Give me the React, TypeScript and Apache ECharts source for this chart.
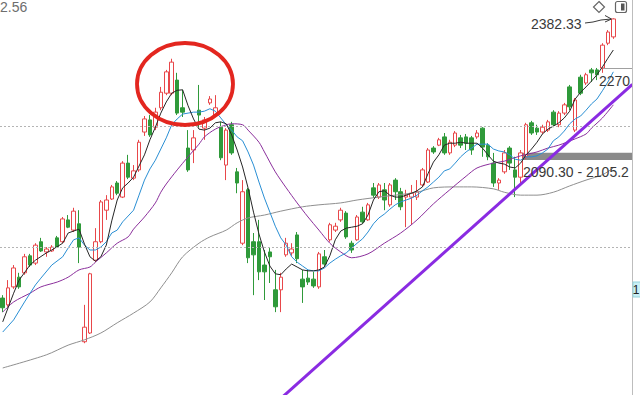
import React, { useEffect, useRef } from "react";
import * as echarts from "echarts";

// Daily candles: open / close / low / high
const opens = [1806,1792,1829,1849,1858,1893,1878,1922,1901,1903,
1930,1922,1967,1946,1959,1716,1734,1884,1922,1987,
2010,2043,2014,2084,2053,2070,2148,2173,2158,2198,
2228,2228,2255,2198,2115,2111,2193,2156,2208,2183,
2158,2080,2163,2066,1919,2029,1922,1922,1874,1901,
1823,1823,1895,1899,1936,1845,1847,1845,1829,1891,
1926,1946,1967,1981,1919,1926,1983,1967,2033,2014,
2029,1998,2049,2025,2014,2014,2014,2039,2045,2115,
2121,2138,2105,2121,2136,2138,2136,2138,2156,2121,
2084,2043,2066,2115,2070,2055,2097,2167,2156,2148,
2152,2189,2163,2187,2241,2152,2261,2249,2276,2276,
2280,2331,2344];
const closes = [1786,1827,1868,1829,1891,1874,1915,1903,1907,1911,
1911,1969,1952,1985,1911,1746,1856,1922,2004,2008,
2035,2022,2084,2055,2068,2127,2175,2142,2189,2230,
2272,2292,2187,2189,2070,2136,2183,2173,2216,2198,
2095,2152,2105,2043,2025,1889,1895,1860,1860,1891,
1788,1849,1919,1907,1887,1829,1839,1831,1897,1876,
1957,1954,1987,1932,1905,1973,1963,1998,2018,2039,
2008,2039,2025,1994,2018,2022,2025,2070,2111,2107,
2132,2105,2127,2146,2121,2125,2111,2146,2117,2097,
2043,2049,2105,2084,2055,2105,2163,2146,2148,2158,
2169,2163,2187,2204,2200,2214,2228,2266,2270,2266,
2327,2354,2381];
const lows = [1777,1788,1825,1825,1854,1870,1874,1901,1891,1901,
1909,1919,1950,1942,1878,1713,1732,1880,1919,1967,
2008,2018,2012,2051,2049,2066,2140,2138,2152,2193,
2224,2224,2183,2179,2066,2084,2158,2132,2204,2179,
2090,2049,2101,2022,1915,1878,1812,1843,1802,1837,
1777,1777,1891,1893,1878,1796,1833,1827,1825,1870,
1922,1942,1963,1928,1899,1924,1959,1965,2012,2010,
1987,1994,2008,1987,1952,1957,2008,2035,2043,2103,
2119,2101,2101,2117,2115,2111,2101,2134,2097,2090,
2035,2029,2062,2070,2014,2043,2092,2142,2142,2144,
2148,2158,2158,2183,2193,2148,2224,2245,2251,2255,
2270,2327,2340];
const highs = [1812,1843,1874,1858,1897,1897,1919,1930,1911,1915,
1934,1973,1977,1992,1987,1792,1858,1950,2008,2018,
2039,2047,2088,2101,2080,2132,2181,2183,2198,2241,
2276,2299,2270,2235,2152,2152,2245,2179,2222,2224,
2169,2156,2169,2074,2049,2033,1940,1967,1905,1909,
1864,1858,1930,1919,1942,1864,1864,1860,1901,1905,
1961,1961,1992,1985,1924,1977,1994,2002,2043,2043,
2043,2043,2053,2033,2029,2039,2049,2074,2115,2119,
2136,2146,2132,2150,2142,2144,2140,2152,2158,2125,
2105,2053,2111,2119,2097,2111,2167,2171,2163,2163,
2173,2193,2191,2208,2245,2218,2266,2270,2280,2280,
2331,2358,2382.33];

// Moving averages as [day index, value]
const ma5 = [[0,1757],[2,1816],[3,1843],[5,1874],[6,1884],[8,1899],[9,1905],[11,1919],[12,1940],[14,1948],
[15,1917],[16,1891],[17,1882],[18,1891],[19,1915],[20,1965],[21,2008],[22,2033],[23,2043],[24,2055],
[25,2078],[26,2101],[27,2132],[28,2158],[29,2187],[30,2210],[31,2228],[32,2234],[33,2235],[34,2202],
[35,2175],[36,2154],[37,2152],[38,2156],[39,2167],[40,2169],[41,2165],[42,2142],[43,2111],[44,2076],
[45,2033],[46,1983],[47,1938],[48,1901],[49,1872],[50,1856],[51,1854],[52,1866],[53,1876],[54,1870],
[55,1864],[56,1862],[57,1862],[58,1864],[59,1870],[60,1893],[61,1926],[62,1944],[63,1950],[64,1952],
[65,1954],[66,1959],[67,1977],[68,2008],[69,2025],[70,2027],[71,2018],[72,2014],[73,2014],[74,2018],
[75,2022],[76,2027],[77,2035],[78,2062],[79,2086],[80,2101],[81,2121],[82,2125],[83,2125],[84,2127],
[85,2125],[86,2125],[87,2125],[88,2115],[89,2101],[90,2088],[91,2084],[92,2082],[93,2076],[94,2074],
[95,2084],[96,2101],[97,2113],[98,2127],[99,2144],[100,2154],[101,2160],[102,2167],[103,2177],[104,2191],
[105,2216],[106,2230],[107,2241],[108,2253],[109,2266],[110,2282],[111,2300],[112,2317]];
const ma10 = [[0,1736],[2,1761],[4,1798],[6,1833],[7,1847],[9,1874],[11,1891],[12,1909],[13,1926],[14,1930],
[15,1915],[16,1905],[17,1905],[18,1911],[19,1922],[20,1940],[21,1946],[22,1963],[23,1975],[24,1987],
[25,2018],[26,2049],[27,2072],[28,2090],[29,2113],[30,2136],[31,2163],[32,2175],[33,2185],[34,2187],
[35,2189],[36,2189],[37,2191],[38,2196],[39,2191],[40,2177],[41,2163],[42,2152],[43,2138],[44,2130],
[45,2107],[46,2080],[47,2045],[48,2012],[49,1983],[50,1954],[51,1930],[52,1915],[53,1891],[54,1880],
[55,1872],[56,1864],[57,1862],[58,1862],[59,1868],[60,1878],[61,1886],[62,1893],[63,1899],[64,1909],
[65,1919],[66,1928],[67,1942],[68,1959],[69,1971],[70,1979],[71,1989],[72,1998],[73,2004],[74,2008],
[75,2012],[76,2018],[77,2027],[78,2035],[79,2045],[80,2055],[81,2068],[82,2072],[83,2084],[84,2097],
[85,2107],[86,2115],[87,2123],[88,2123],[89,2123],[90,2113],[91,2109],[92,2107],[93,2101],[94,2092],
[95,2090],[96,2097],[97,2097],[98,2099],[99,2105],[100,2113],[101,2130],[102,2138],[103,2150],[104,2165],
[105,2175],[106,2181],[107,2193],[108,2206],[109,2216],[110,2233],[111,2251],[112,2272]];
const ma20 = [[0,1777],[2,1798],[5,1816],[7,1829],[10,1839],[12,1849],[14,1864],[16,1870],[17,1880],[19,1899],
[21,1919],[23,1932],[24,1948],[26,1973],[28,2002],[29,2024],[30,2041],[32,2070],[34,2097],[36,2123],
[37,2138],[39,2154],[41,2163],[42,2165],[44,2163],[45,2152],[47,2127],[48,2107],[50,2066],[52,2033],
[54,2002],[56,1973],[58,1946],[60,1919],[62,1901],[64,1889],[67,1897],[70,1919],[73,1940],[76,1967],
[79,2000],[82,2029],[85,2057],[87,2074],[90,2084],[92,2088],[95,2099],[98,2107],[100,2115],[102,2121],
[105,2134],[107,2144],[108,2156],[110,2177],[112,2204]];
const ma60 = [[0,1662],[8,1689],[12,1709],[15,1720],[18,1734],[21,1755],[24,1775],[27,1798],[29,1827],[31,1858],
[33,1891],[36,1919],[38,1932],[41,1946],[43,1961],[45,1971],[48,1977],[51,1985],[55,1994],[58,1998],
[62,2002],[65,2008],[69,2014],[72,2018],[76,2024],[79,2033],[83,2035],[86,2035],[90,2031],[92,2024],
[95,2018],[98,2018],[101,2024],[104,2037],[107,2049],[110,2060],[112,2074]];

// Support line anchors [day index, value]
const trendLine = [[50, 1589], [115.5, 2246]];
// Unfilled gap
const gapLow = 2090.3;
const gapHigh = 2105.2;
const gapStartDay = 95;
// Dotted price levels
const priceLevels = [2159.4, 1910.6];

const slotCount = 116;
const days = Array.from({ length: slotCount }, (_, i) => `D${i + 1}`);
const candles = opens.map((o, i) => [o, closes[i], lows[i], highs[i]]);
const lastHigh = highs[highs.length - 1];

const FONT = '14px "Liberation Sans", Arial, sans-serif';
const UP = "#e8474a";
const DOWN = "#2f9a3a";

export default function App() {
  const ref = useRef<HTMLDivElement>(null);

  useEffect(() => {
    document.body.style.margin = "0";
    if (!ref.current) return;
    const chart = echarts.init(ref.current, null, { renderer: "svg" });

    const maSeries = (name: string, data: number[][], color: string, smooth: number | boolean) => ({
      name,
      type: "line",
      xAxisIndex: 1,
      data,
      symbol: "none",
      smooth,
      lineStyle: { color, width: 1 },
      z: 3,
      silent: true,
    });

    chart.setOption({
      animation: false,
      backgroundColor: "#ffffff",
      grid: { left: -3.24, right: 7.6, top: 0, bottom: 0 },
      xAxis: [
        { type: "category", data: days, show: false, boundaryGap: true },
        { type: "value", min: -0.5, max: slotCount - 0.5, show: false },
      ],
      yAxis: { type: "value", min: 1606.3, max: 2420, show: false, splitLine: { show: false } },
      series: [
        {
          name: "gap",
          type: "line",
          xAxisIndex: 1,
          data: [[gapStartDay, (gapLow + gapHigh) / 2], [slotCount - 0.5, (gapLow + gapHigh) / 2]],
          symbol: "none",
          lineStyle: { opacity: 0 },
          silent: true,
          z: 1,
          markArea: {
            silent: true,
            itemStyle: { color: "#8a8a8a" },
            data: [[{ xAxis: gapStartDay, yAxis: gapHigh }, { xAxis: slotCount - 0.5, yAxis: gapLow }]],
          },
        },
        {
          name: "K",
          type: "candlestick",
          data: candles,
          barWidth: 4,
          z: 2,
          itemStyle: {
            color: "#ffffff",
            color0: DOWN,
            borderColor: UP,
            borderColor0: DOWN,
            borderWidth: 1,
          },
          markLine: {
            silent: true,
            symbol: "none",
            label: { show: false },
            lineStyle: { color: "#b4b4b4", type: [2, 2], width: 1 },
            data: priceLevels.map((v) => ({ yAxis: v })),
          },
        },
        maSeries("MA60", ma60, "#8f8f8f", 0.3),
        maSeries("MA20", ma20, "#8b2f9c", 0.3),
        maSeries("MA10", ma10, "#2a8fd4", false),
        maSeries("MA5", ma5, "#262626", false),
        {
          name: "support",
          type: "line",
          xAxisIndex: 1,
          data: trendLine,
          symbol: "none",
          lineStyle: { color: "#8a2be2", width: 3 },
          z: 5,
          silent: true,
        },
      ],
      graphic: [
        {
          type: "ellipse",
          shape: { cx: 185, cy: 84, rx: 48, ry: 41 },
          style: { fill: "none", stroke: "#e3261f", lineWidth: 3.8 },
          z: 100,
        },
        {
          type: "text",
          x: 0,
          y: 0,
          style: { text: "2.56", font: FONT, fill: "#6e6e6e", verticalAlign: "top", textVerticalAlign: "top" },
          z: 100,
        },
        {
          type: "text",
          x: 531,
          y: 24,
          style: { text: lastHigh.toFixed(2), font: FONT, fill: "#3a3a3a", verticalAlign: "middle", textVerticalAlign: "middle" },
          z: 100,
        },
        {
          type: "polyline",
          shape: { points: [[585, 23], [593, 22], [601, 20], [611, 19]] },
          style: { stroke: "#3a3a3a", lineWidth: 1, fill: "none" },
          z: 100,
        },
        {
          type: "polyline",
          shape: { points: [[605, 15.5], [611.5, 19], [605, 22]] },
          style: { stroke: "#3a3a3a", lineWidth: 1, fill: "none" },
          z: 100,
        },
        {
          type: "text",
          x: 523,
          y: 172,
          style: { text: `${gapLow.toFixed(2)} - ${gapHigh}`, font: FONT, fill: "#3a3a3a", verticalAlign: "middle", textVerticalAlign: "middle" },
          z: 100,
        },
        {
          type: "line",
          shape: { x1: 603, y1: 68.5, x2: 633, y2: 68.5 },
          style: { stroke: "#a0a0a0", lineWidth: 1 },
          z: 100,
        },
        {
          type: "text",
          x: 599,
          y: 81,
          style: { text: "2270", font: FONT, fill: "#3a3a3a", verticalAlign: "middle", textVerticalAlign: "middle" },
          z: 100,
        },
        {
          type: "rect",
          shape: { x: 633, y: 0, width: 8, height: 395 },
          style: { fill: "#ffffff" },
          z: 110,
        },
        {
          type: "line",
          shape: { x1: 632.5, y1: 0, x2: 632.5, y2: 395 },
          style: { stroke: "#bdbdbd", lineWidth: 1 },
          z: 111,
        },
        {
          type: "rect",
          shape: { x: 633, y: 282, width: 8, height: 15 },
          style: { fill: "#c9eff4", stroke: "#93d3dc", lineWidth: 1 },
          z: 112,
        },
        {
          type: "text",
          x: 639.5,
          y: 289.5,
          style: {
            text: "1",
            font: '12px "Liberation Sans", Arial, sans-serif',
            fill: "#222222",
            align: "right",
            textAlign: "right",
            verticalAlign: "middle",
            textVerticalAlign: "middle",
          },
          z: 113,
        },
        {
          type: "polygon",
          shape: { points: [[599, 1.5], [604.5, 7], [599, 12.5], [593.5, 7]] },
          style: { fill: "#ffffff", stroke: "#666666", lineWidth: 1.2 },
          z: 100,
        },
        {
          type: "rect",
          shape: { x: 615.5, y: 1.5, width: 11, height: 11, r: 2 },
          style: { fill: "#ffffff", stroke: "#666666", lineWidth: 1.2 },
          z: 100,
        },
        {
          type: "rect",
          shape: { x: 621, y: 3.5, width: 3.5, height: 7 },
          style: { fill: "#555555" },
          z: 101,
        },
      ],
    });

    return () => chart.dispose();
  }, []);

  return <div ref={ref} style={{ width: 640, height: 395 }} />;
}
